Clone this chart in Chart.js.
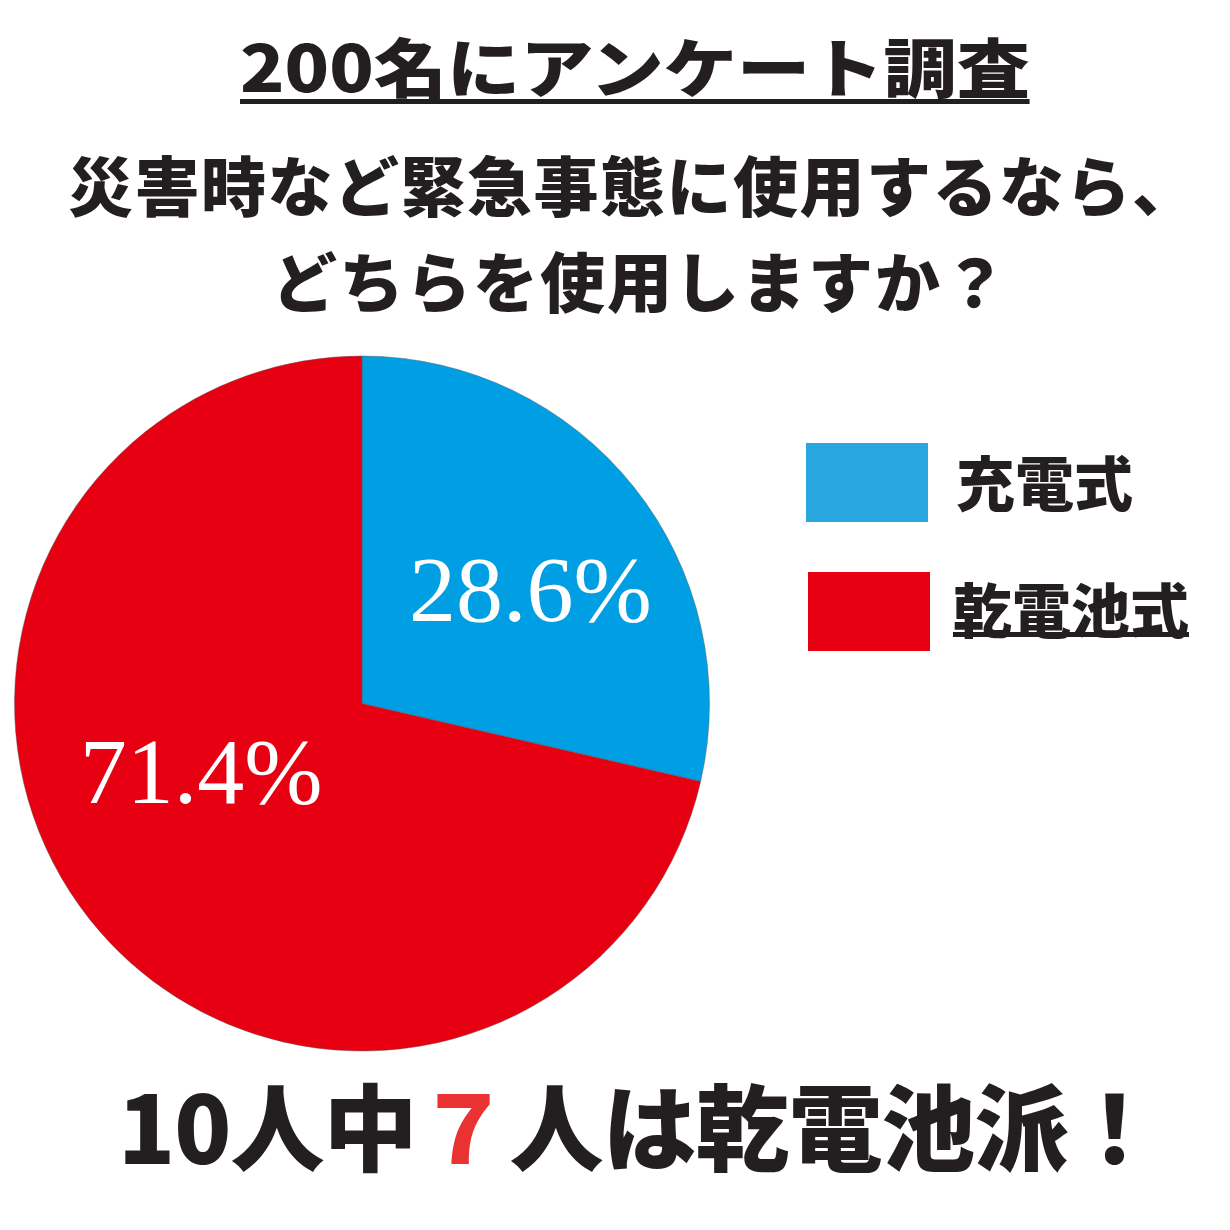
<!DOCTYPE html>
<html lang="ja">
<head>
<meta charset="utf-8">
<title>200名にアンケート調査</title>
<script src="https://cdn.jsdelivr.net/npm/chart.js@4.4.0/dist/chart.umd.min.js"></script>
<style>
body { margin: 0; background: #fff; }
#wrap { position: relative; width: 1230px; height: 1230px; overflow: hidden;
        font-family: "Noto Sans CJK JP", sans-serif; color: #231f20; }
#chart { position: absolute; left: 0; top: 0; }
.txt { position: absolute; white-space: nowrap; font-weight: 900; }
#title { left: 240px; top: 32px; font-size: 64px; line-height: 64px; height: 67px;
         border-bottom: 5px solid #231f20; transform-origin: 0 0; }
#sub1 { left: 68px; top: 151px; font-size: 65px; line-height: 65px; letter-spacing: 1.5px; }
#sub2 { left: 272px; top: 247px; font-size: 65px; line-height: 65px; letter-spacing: 2px; }
#summary { left: 118px; top: 1076px; font-size: 94px; line-height: 94px; letter-spacing: -1px; }
#summary .em { color: #ea3232; }
.legend-box { position: absolute; width: 122px; height: 79px; }
.legend-label { position: absolute; font-size: 59px; line-height: 59px; font-weight: 900; white-space: nowrap; }
.legend-label.under { height: 54px; border-bottom: 5px solid #231f20; }
</style>
</head>
<body>
<div id="wrap">
  <canvas id="chart" width="1230" height="1230"></canvas>
  <div id="title" class="txt">200名にアンケート調査</div>
  <div id="sub1" class="txt">災害時など緊急事態に使用するなら、</div>
  <div id="sub2" class="txt">どちらを使用しますか？</div>
  <div id="legend"></div>
  <div id="summary" class="txt">10人中<span class="em">７</span>人は乾電池派！</div>
</div>
<script>
// データ
const labels = ['充電式', '乾電池式'];
const values = [28.6, 71.4];
const sliceColors = ['#009fe3', '#e60012'];
const legendColors = ['#28a6df', '#e60012'];
const underlined = [false, true];

// ラベル位置（スライス内の角度の割合と半径の割合）
const labelAngleFrac = [0.62, 0.526];
const labelRadiusFrac = [0.54, 0.545];

// 凡例（HTML）
const legendTops = [443, 572];
const legendLefts = [806, 808];
const legendEl = document.getElementById('legend');
labels.forEach((name, i) => {
    const box = document.createElement('div');
    box.className = 'legend-box';
    box.style.left = legendLefts[i] + 'px';
    box.style.top = legendTops[i] + 'px';
    box.style.background = legendColors[i];
    legendEl.appendChild(box);

    const lab = document.createElement('div');
    lab.className = 'legend-label' + (underlined[i] ? ' under' : '');
    lab.style.left = (i === 0 ? 956 : 953) + 'px';
    lab.style.top = (legendTops[i] + (i === 0 ? 8 : 6)) + 'px';
    lab.textContent = name;
    legendEl.appendChild(lab);
});

// スライス内のパーセント表示
const sliceLabels = {
    id: 'sliceLabels',
    afterDatasetsDraw(chart) {
        const ctx = chart.ctx;
        const meta = chart.getDatasetMeta(0);
        ctx.save();
        ctx.fillStyle = '#ffffff';
        ctx.font = '94px "Liberation Serif", "DejaVu Serif", serif';
        ctx.textAlign = 'center';
        ctx.textBaseline = 'alphabetic';
        meta.data.forEach((arc, i) => {
            const p = arc.getProps(['x', 'y', 'startAngle', 'endAngle', 'outerRadius'], true);
            const a = p.startAngle + labelAngleFrac[i] * (p.endAngle - p.startAngle);
            const r = labelRadiusFrac[i] * p.outerRadius;
            ctx.fillText(values[i].toFixed(1) + '%', p.x + Math.cos(a) * r, p.y + Math.sin(a) * r);
        });
        ctx.restore();
    }
};

const ctx = document.getElementById('chart').getContext('2d');
new Chart(ctx, {
    type: 'pie',
    data: {
        labels: labels,
        datasets: [{
            data: values,
            backgroundColor: sliceColors,
            borderColor: 'rgba(90, 90, 90, 0.45)',
            borderWidth: 1
        }]
    },
    options: {
        responsive: false,
        animation: false,
        layout: {
            padding: { left: 14, right: 520, top: 355, bottom: 178 }
        },
        plugins: {
            legend: { display: false },
            tooltip: { enabled: false }
        }
    },
    plugins: [sliceLabels]
});

// タイトルの横幅を合わせる
document.fonts.ready.then(() => {
    const t = document.getElementById('title');
    const w = t.getBoundingClientRect().width;
    t.style.transform = 'scaleX(' + (790 / w) + ')';
});
</script>
</body>
</html>
